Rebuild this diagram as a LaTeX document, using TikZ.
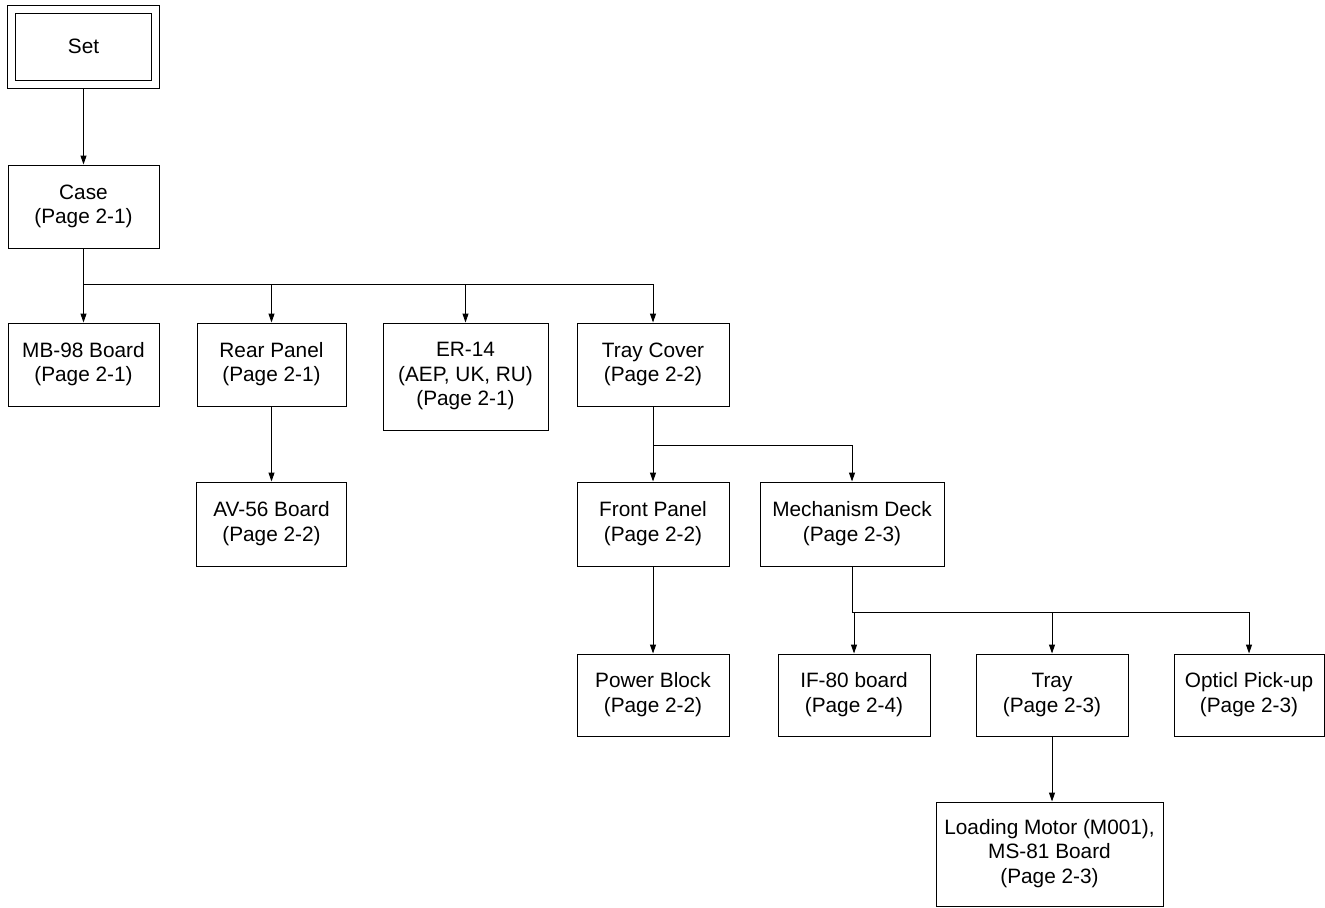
\documentclass[tikz,border=0pt]{standalone}
\usepackage{fontspec}
\setmainfont{Liberation Sans}
\usetikzlibrary{arrows.meta, positioning, calc}

\begin{document}
\begin{tikzpicture}[x=0.5pt, y=-0.5pt,
    box/.style={draw, rectangle, line width=0.5pt, minimum width=76pt, minimum height=41.5pt,
        inner sep=2pt, font=\fontsize{10.4}{12.2}\selectfont},
    link/.style={line width=0.5pt, -{Triangle[length=4.5pt, width=3pt]}}]
\useasboundingbox (0,0) rectangle (1325,907);

\node[box, double, double distance=3.5pt, outer sep=2.25pt, minimum width=72.25pt, minimum height=37.75pt] (set) at (83.5,46.75) {Set};

\node[box, minimum width=75.5pt] (case) at (83.5,206.5) {
    \begin{tabular}{@{}c@{}}
    Case\\
    (Page 2-1)
    \end{tabular}
};

\node[box, minimum width=75.5pt] (mb) at (83.5,364.5) {
    \begin{tabular}{@{}c@{}}
    MB-98 Board\\
    (Page 2-1)
    \end{tabular}
};
\node[box, minimum width=74.5pt] (rear) at (271.5,364.5) {
    \begin{tabular}{@{}c@{}}
    Rear Panel\\
    (Page 2-1)
    \end{tabular}
};
\node[box, minimum width=82.5pt, minimum height=53.5pt] (er) at (465.5,376.5) {
    \begin{tabular}{@{}c@{}}
    ER-14\\
    (AEP, UK, RU)\\
    (Page 2-1)
    \end{tabular}
};
\node[box] (tcover) at (653,364.5) {
    \begin{tabular}{@{}c@{}}
    Tray Cover\\
    (Page 2-2)
    \end{tabular}
};

\node[box, minimum width=75pt, minimum height=42pt] (av) at (271.5,524) {
    \begin{tabular}{@{}c@{}}
    AV-56 Board\\
    (Page 2-2)
    \end{tabular}
};
\node[box, minimum height=42pt] (front) at (653,524) {
    \begin{tabular}{@{}c@{}}
    Front Panel\\
    (Page 2-2)
    \end{tabular}
};
\node[box, minimum width=92pt, minimum height=42pt] (mech) at (852,524) {
    \begin{tabular}{@{}c@{}}
    Mechanism Deck\\
    (Page 2-3)
    \end{tabular}
};

\node[box, minimum height=41pt] (power) at (653,695) {
    \begin{tabular}{@{}c@{}}
    Power Block\\
    (Page 2-2)
    \end{tabular}
};
\node[box, minimum height=41pt] (if80) at (854,695) {
    \begin{tabular}{@{}c@{}}
    IF-80 board\\
    (Page 2-4)
    \end{tabular}
};
\node[box, minimum height=41pt] (tray) at (1052,695) {
    \begin{tabular}{@{}c@{}}
    Tray\\
    (Page 2-3)
    \end{tabular}
};
\node[box, minimum width=75pt, minimum height=41pt] (optic) at (1249,695) {
    \begin{tabular}{@{}c@{}}
    Opticl Pick-up\\
    (Page 2-3)
    \end{tabular}
};

\node[box, minimum width=113.5pt, minimum height=52pt] (load) at (1049.5,854) {
    \begin{tabular}{@{}c@{}}
    Loading Motor (M001),\\
    MS-81 Board\\
    (Page 2-3)
    \end{tabular}
};

\coordinate (bus1) at (0,284.5);
\coordinate (bus2) at (0,445);
\coordinate (bus3) at (0,612.5);

\draw[link] (set) -- (case);
\foreach \n in {mb, rear, er, tcover}
    \draw[link] (case.south) |- (\n.north |- bus1) -- (\n.north);
\draw[link] (rear) -- (av);
\foreach \n in {front, mech}
    \draw[link] (tcover.south) |- (\n.north |- bus2) -- (\n.north);
\draw[link] (front) -- (power);
\foreach \n in {if80, tray, optic}
    \draw[link] (mech.south) |- (\n.north |- bus3) -- (\n.north);
\draw[link] (tray.south) -- (tray.south |- load.north);
\end{tikzpicture}
\end{document}
